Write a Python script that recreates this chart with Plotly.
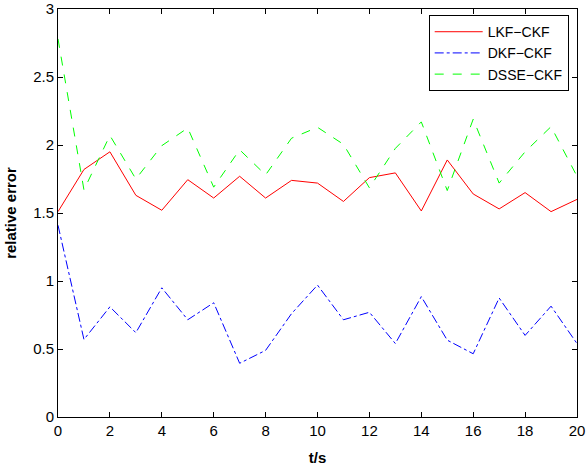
import plotly.graph_objects as go

t = list(range(21))
lkf_ckf = [1.51, 1.82, 1.95, 1.63, 1.52, 1.745, 1.61, 1.77, 1.61, 1.74, 1.72,
           1.585, 1.76, 1.795, 1.515, 1.89, 1.64, 1.53, 1.65, 1.51, 1.60]
dkf_ckf = [1.41, 0.57, 0.81, 0.62, 0.95, 0.715, 0.84, 0.395, 0.49, 0.76, 0.97,
           0.715, 0.77, 0.54, 0.885, 0.565, 0.465, 0.875, 0.60, 0.815, 0.54]
dsse_ckf = [2.78, 1.67, 2.07, 1.75, 1.995, 2.125, 1.69, 1.965, 1.78, 2.05, 2.13,
            2.005, 1.685, 1.975, 2.17, 1.665, 2.19, 1.72, 1.95, 2.135, 1.77]

series = [
    ("LKF\u2212CKF", lkf_ckf, "#ff0000", "solid"),
    ("DKF\u2212CKF", dkf_ckf, "#0000ff", "dashdot"),
    ("DSSE\u2212CKF", dsse_ckf, "#00ff00", "dash"),
]

fig = go.Figure()
for name, ys, color, dash in series:
    fig.add_trace(go.Scatter(x=t, y=ys, mode="lines", name=name,
                             line=dict(color=color, width=1, dash=dash)))

axis_common = dict(
    showgrid=False, zeroline=False, showline=True, linecolor="black", linewidth=1,
    mirror="ticks", ticks="inside", ticklen=5, tickcolor="black", automargin=False,
    tickfont=dict(family="Liberation Sans, Arial, sans-serif", size=15, color="black"),
)

fig.update_layout(
    width=587, height=466,
    margin=dict(l=58, r=10, t=9, b=49),
    paper_bgcolor="white", plot_bgcolor="white",
    font=dict(family="Liberation Sans, Arial, sans-serif", color="black"),
    xaxis=dict(range=[0, 20], dtick=2, tick0=0,
               title=dict(text="<b>t/s</b>", font=dict(size=15), standoff=14),
               **axis_common),
    yaxis=dict(range=[0, 3], dtick=0.5, tick0=0,
               title=dict(text="<b>relative error</b>", font=dict(size=15), standoff=12),
               **axis_common),
    legend=dict(x=0.984, y=0.985, xanchor="right", yanchor="top",
                bordercolor="black", borderwidth=1, bgcolor="white",
                font=dict(size=14), tracegroupgap=0, itemwidth=48),
    showlegend=True,
)

fig.write_html("out.html", config={"displayModeBar": False},
               post_script="document.body.style.margin='0px';")
